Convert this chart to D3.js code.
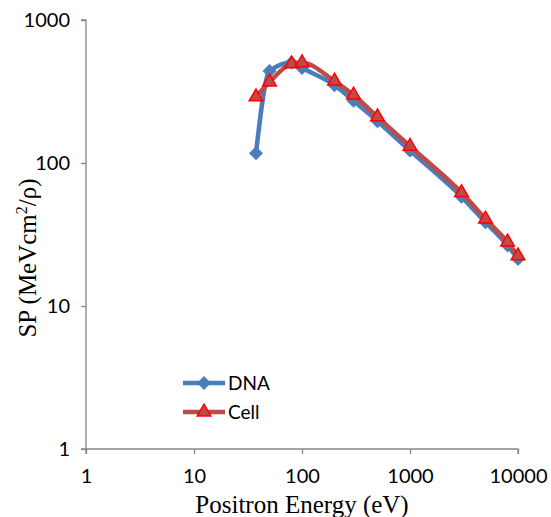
<!DOCTYPE html>
<html><head><meta charset="utf-8">
<script src="https://cdn.jsdelivr.net/npm/d3@7"></script>
<style>body{margin:0;background:#fff}</style>
</head><body>
<svg id="c" width="551" height="517"></svg>
<script>
const energies = [37.5, 50, 80, 100, 200, 300, 500, 1000, 3000, 5000, 8000, 10000];
const dnaValues = [117, 440, 505, 462, 350, 272, 196, 122, 58, 38.5, 26.5, 21.3];
const cellValues = [290, 368, 493, 502, 374, 299, 210, 131, 62, 40.6, 28, 22.4];
const xTicks = [1, 10, 100, 1000, 10000];
const yTicks = [1, 10, 100, 1000];
const seriesNames = ["DNA", "Cell"];

const svg = d3.select("#c");
const x = d3.scaleLog().domain([1, 10000]).range([86, 518]);
const y = d3.scaleLog().domain([1, 1000]).range([449, 20]);
const axisColor = "#868686";
const sans = "Lato, 'Liberation Sans', sans-serif";

const xa = svg.append("g").attr("transform", "translate(0,449)")
  .call(d3.axisBottom(x).tickValues(xTicks).tickFormat(d3.format("d")).tickSize(5).tickPadding(15));
const ya = svg.append("g").attr("transform", "translate(86,0)")
  .call(d3.axisLeft(y).tickValues(yTicks).tickFormat(d3.format("d")).tickSize(5).tickPadding(11));
[xa, ya].forEach(a => {
  a.select(".domain").attr("stroke", axisColor).attr("stroke-width", 1.3);
  a.selectAll(".tick line").attr("stroke", axisColor).attr("stroke-width", 1.3);
  a.selectAll(".tick text").attr("fill", "#000").attr("font-family", sans).attr("font-size", 20);
});
ya.select(".domain").attr("d", "M-5,20H0V449H-5");
xa.select(".domain").attr("d", "M86,5V0H518V5");

const line = d3.line().x((d, i) => x(energies[i])).y(d => y(d)).curve(d3.curveMonotoneX);

const blue = "#4a7ebb", red = "#be4b48";
svg.append("path").attr("d", line(dnaValues)).attr("fill", "none").attr("stroke", blue).attr("stroke-width", 4.5).attr("stroke-linejoin", "round");
const diamond = d3.symbol().type(d3.symbolSquare).size(78);
svg.append("g").selectAll("path").data(dnaValues).join("path")
  .attr("d", diamond).attr("transform", (d, i) => `translate(${x(energies[i])},${y(d)}) rotate(45)`).attr("fill", blue).attr("stroke", blue);

svg.append("path").attr("d", line(cellValues)).attr("fill", "none").attr("stroke", red).attr("stroke-width", 4.5).attr("stroke-linejoin", "round");
const tri = d3.symbol().type(d3.symbolTriangle).size(80);
svg.append("g").selectAll("path").data(cellValues).join("path")
  .attr("d", tri).attr("transform", (d, i) => `translate(${x(energies[i])},${y(d)})`).attr("fill", red).attr("stroke", "#ff0000").attr("stroke-width", 1.5);

// legend
const lg = svg.append("g");
[[383, blue, diamond, blue, 1, 45], [412, red, tri, "#ff0000", 1.5, 0]].forEach(([ly, c, sym, sc, sw, rot], i) => {
  lg.append("line").attr("x1", 183).attr("x2", 225).attr("y1", ly).attr("y2", ly).attr("stroke", c).attr("stroke-width", 4.5);
  lg.append("path").attr("d", sym).attr("transform", `translate(204,${ly}) rotate(${rot})`).attr("fill", c).attr("stroke", sc).attr("stroke-width", sw);
  lg.append("text").attr("x", 228).attr("y", ly + 7).text(seriesNames[i]).attr("font-family", sans).attr("font-size", 19);
});

svg.append("text").attr("x", 302).attr("y", 513).attr("text-anchor", "middle")
  .attr("font-family", "'Liberation Serif', serif").attr("font-size", 25).text("Positron Energy (eV)");
const yt = svg.append("text").attr("transform", "translate(36,258) rotate(-90)").attr("text-anchor", "middle")
  .attr("font-family", "'Liberation Serif', serif").attr("font-size", 25);
yt.append("tspan").text("SP (MeVcm");
yt.append("tspan").attr("dy", -9).attr("font-size", 16).text("2");
yt.append("tspan").attr("dy", 9).text("/ρ)");
</script>
</body></html>
